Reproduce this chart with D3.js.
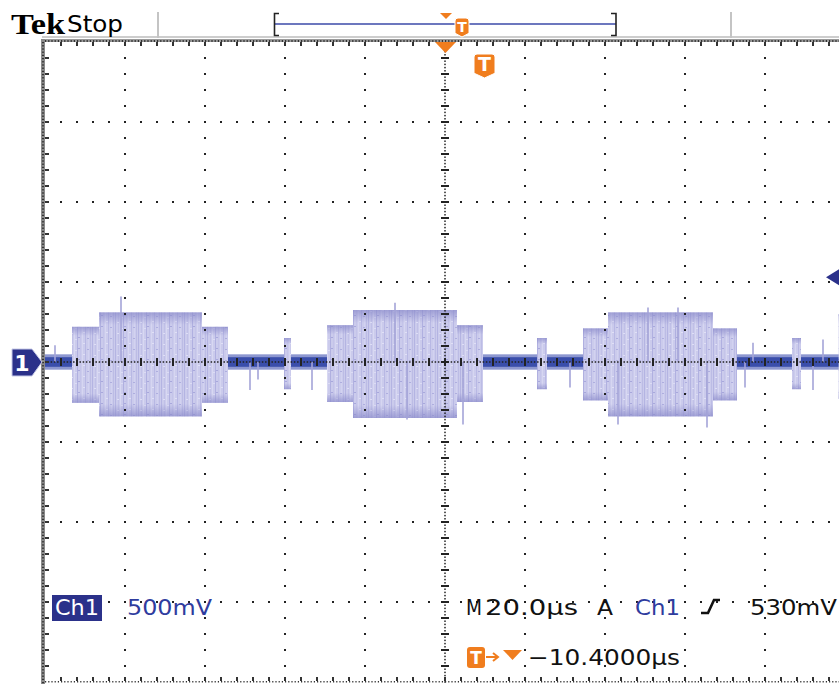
<!DOCTYPE html>
<html><head><meta charset="utf-8">
<script src="https://cdn.jsdelivr.net/npm/d3@7"></script>
<style>html,body{margin:0;padding:0;background:#fff;}svg{display:block;}</style>
</head><body>
<svg id="c" width="839" height="684"></svg>
<script>
// ---- data (time in µs from left of screen, amplitude in V) ----
const outerStart = [6.75, 70.5, 134.5];
const outerEnd   = [45.75, 109.5, 173];
const outerHi    = [0.22, 0.23, 0.21];
const outerLo    = [-0.255, -0.25, -0.24];
const coreStart  = [13.5, 77, 140.75];
const coreEnd    = [39.25, 103, 167];
const coreHi     = [0.31, 0.325, 0.31];
const coreLo     = [-0.34, -0.35, -0.34];
const smallStart = [59.75, 123, 186.75, 198.4];
const smallEnd   = [61.5, 125.5, 189, 200];
const smallHi    = [0.15, 0.15, 0.15, 0.30];
const smallLo    = [-0.17, -0.17, -0.17, -0.23];
const spikeT = [2.5, 19, 51.25, 53.25, 66.75, 87.5, 90.5, 104.5, 131.25, 143.25, 150.75, 158.25, 165.5, 175, 177, 192, 194.5];
const spikeV = [0.105, 0.41, -0.175, -0.11, -0.175, 0.37, -0.36, -0.39, -0.16, -0.39, 0.34, 0.34, -0.41, -0.16, 0.12, -0.175, 0.14];
const baseNoise = 0.03;
const triggerLevel = 0.53;
const timeDomain = [0, 200];   // 10 div x 20 µs
const voltDomain = [-2, 2];    // 8 div x 500 mV
const labelCh = "Ch1", labelScale = "500mV";
const labelTime = "20.0µs", labelTrig = "530mV", labelPos = "−10.4000µs";

const svg = d3.select("#c");
const x = d3.scaleLinear().domain(timeDomain).range([45, 845]);
const y = d3.scaleLinear().domain(voltDomain).range([682, 42]);
const ORANGE = "#f07d1e", NAVY = "#2b318a", BLUE = "#2f3c9e";

svg.append("rect").attr("width", 839).attr("height", 684).attr("fill", "#fff");

// defs
const defs = svg.append("defs");
const pat = defs.append("pattern").attr("id", "noise").attr("patternUnits", "userSpaceOnUse")
  .attr("width", 23).attr("height", 11);
pat.append("rect").attr("width", 23).attr("height", 11).attr("fill", "#cbcbec");
[[0,1,"#b4b4e2"],[3,1,"#c0c0e7"],[5,1,"#d8d8f2"],[8,1,"#b0b0e0"],[11,1,"#c4c4e9"],[13,1,"#d6d6f1"],[16,1,"#b8b8e4"],[19,1,"#d2d2f0"],[21,1,"#bcbce5"]]
  .forEach(s => pat.append("rect").attr("x", s[0]).attr("width", s[1]).attr("height", 11).attr("fill", s[2]));
[[2,3,"#dedef6"],[9,7,"#a8a8dc"],[14,2,"#e0e0f6"],[18,8,"#aeaedf"],[6,9,"#dcdcf4"]]
  .forEach(s => pat.append("rect").attr("x", s[0]).attr("y", s[1]).attr("width", 2).attr("height", 1).attr("fill", s[2]));
const grad = defs.append("linearGradient").attr("id", "edge").attr("x1", 0).attr("x2", 0).attr("y1", 0).attr("y2", 1);
[[0,0.7],[0.12,0],[0.88,0],[1,0.7]].forEach(s =>
  grad.append("stop").attr("offset", s[0]).attr("stop-color", "#8a8aca").attr("stop-opacity", s[1]));

// ---- waveform ----
const wf = svg.append("g");
wf.append("rect").attr("x", x(0)).attr("width", x(200) - x(0))
  .attr("y", y(baseNoise * 1.6)).attr("height", y(-baseNoise * 1.6) - y(baseNoise * 1.6)).attr("fill", "#8d97d0");
wf.append("rect").attr("x", x(0)).attr("width", x(200) - x(0))
  .attr("y", y(baseNoise)).attr("height", y(-baseNoise) - y(baseNoise)).attr("fill", "#3a4eab");

function bursts(starts, ends, his, los) {
  const d = starts.map((s, i) => ({s, e: ends[i], h: his[i], l: los[i]}));
  ["url(#noise)", "url(#edge)"].forEach(f => {
    wf.selectAll(null).data(d).enter().append("rect")
      .attr("x", b => x(b.s)).attr("width", b => x(b.e) - x(b.s))
      .attr("y", b => y(b.h)).attr("height", b => y(b.l) - y(b.h))
      .attr("fill", f);
  });
}
bursts(outerStart, outerEnd, outerHi, outerLo);
bursts(coreStart, coreEnd, coreHi, coreLo);
bursts(smallStart, smallEnd, smallHi, smallLo);

wf.selectAll(null).data(spikeT.map((t, i) => ({t, v: spikeV[i]}))).enter().append("line")
  .attr("x1", d => x(d.t)).attr("x2", d => x(d.t))
  .attr("y1", y(0)).attr("y2", d => y(d.v))
  .attr("stroke", "#a4a4d8").attr("stroke-width", 1.6);

// ---- graticule ----
const g = svg.append("g").attr("fill", "#222");
const X0 = 45, Y0 = 42, DIV = 80;
const dots = [];
for (let i = 1; i < 10; i++) {
  if (i === 5) continue;
  for (let k = 1; k < 40; k++) dots.push([X0 + i * DIV, Y0 + k * 16]);
}
for (let j = 1; j < 8; j++) {
  if (j === 4) continue;
  for (let k = 1; k < 50; k++) dots.push([X0 + k * 16, Y0 + j * DIV]);
}
g.selectAll(null).data(dots).enter().append("rect")
  .attr("x", d => d[0] - 1).attr("y", d => d[1] - 1).attr("width", 2).attr("height", 2);
const cx = X0 + 5 * DIV, cy = Y0 + 4 * DIV;
const fine = [];
for (let p = X0; p < 839; p += 3.2) fine.push([p, cy]);
for (let p = Y0; p < 684; p += 3.2) fine.push([cx, p]);
g.selectAll(null).data(fine).enter().append("rect")
  .attr("x", d => d[0] - 0.75).attr("y", d => d[1] - 0.75).attr("width", 1.5).attr("height", 1.5);
const ticksH = d3.range(1, 50).map(k => X0 + k * 16);
g.selectAll(null).data(ticksH).enter().append("rect")
  .attr("x", d => d - 1).attr("y", cy - 4).attr("width", 2).attr("height", 8);
const ticksV = d3.range(1, 40).map(k => Y0 + k * 16);
g.selectAll(null).data(ticksV).enter().append("rect")
  .attr("x", cx - 4).attr("y", d => d - 1).attr("width", 8).attr("height", 2);

// borders
svg.append("line").attr("x1", 42).attr("x2", 839).attr("y1", 37).attr("y2", 37).attr("stroke", "#bdbdbd").attr("stroke-width", 1.5);
svg.append("rect").attr("x", 41).attr("y", 39).attr("width", 798).attr("height", 3).attr("fill", "#9a9a9a");
svg.append("rect").attr("x", 41).attr("y", 39).attr("width", 4).attr("height", 645).attr("fill", "#8a8a8a");
const bt = svg.append("g").attr("fill", "#333");
bt.selectAll(null).data(d3.range(45, 839, 3.2)).enter().append("rect")
  .attr("x", d => d).attr("y", 40).attr("width", 1.2).attr("height", 2);
bt.selectAll(null).data(d3.range(42, 684, 3.2)).enter().append("rect")
  .attr("x", 42).attr("y", d => d).attr("width", 2).attr("height", 1.2);
bt.selectAll(null).data(d3.range(45, 839, 3.2)).enter().append("rect")
  .attr("x", d => d).attr("y", 681).attr("width", 1.2).attr("height", 1.5);
bt.selectAll(null).data(d3.range(1, 50).map(k => X0 + k * 16)).enter().append("rect")
  .attr("x", d => d - 1).attr("y", 42).attr("width", 2).attr("height", 4);
bt.selectAll(null).data(d3.range(1, 50).map(k => X0 + k * 16)).enter().append("rect")
  .attr("x", d => d - 1).attr("y", 677).attr("width", 2).attr("height", 4);
bt.selectAll(null).data(d3.range(1, 40).map(k => Y0 + k * 16)).enter().append("rect")
  .attr("x", 45).attr("y", d => d - 1).attr("width", 4).attr("height", 2);

// ---- header ----
svg.append("text").attr("x", 11).attr("y", 34).attr("font-family", "Liberation Serif, DejaVu Serif, serif")
  .attr("font-weight", "bold").attr("font-size", 30).attr("textLength", 54).attr("lengthAdjust", "spacingAndGlyphs").text("Tek");
svg.append("text").attr("x", 67).attr("y", 32).attr("font-family", "DejaVu Sans, sans-serif")
  .attr("font-size", 23).attr("textLength", 56).attr("lengthAdjust", "spacingAndGlyphs").text("Stop");
[158, 731].forEach(px => svg.append("line").attr("x1", px).attr("x2", px).attr("y1", 12).attr("y2", 38)
  .attr("stroke", "#c4c4c4").attr("stroke-width", 2));

svg.append("line").attr("x1", 274).attr("x2", 616).attr("y1", 24).attr("y2", 24).attr("stroke", "#3b4aa8").attr("stroke-width", 1.6);
svg.append("path").attr("d", "M279,13.5H274.5V35.5H279").attr("fill", "none").attr("stroke", "#222").attr("stroke-width", 1.6);
svg.append("path").attr("d", "M611,13.5H616V35.5H611").attr("fill", "none").attr("stroke", "#222").attr("stroke-width", 1.6);
svg.append("path").attr("d", "M440,13L452,13L446,19Z").attr("fill", ORANGE);
svg.append("path").attr("d", "M435,42L456,42L445.5,53Z").attr("fill", ORANGE);

function badge(x0, y0, w, h, fs) {
  const r = 3;
  svg.append("path").attr("d",
    `M${x0 + r},${y0}H${x0 + w - r}Q${x0 + w},${y0} ${x0 + w},${y0 + r}V${y0 + h * 0.8}L${x0 + w / 2},${y0 + h}L${x0},${y0 + h * 0.8}V${y0 + r}Q${x0},${y0} ${x0 + r},${y0}Z`)
    .attr("fill", ORANGE).attr("stroke", "#fff").attr("stroke-width", 1);
  svg.append("text").attr("x", x0 + w / 2).attr("y", y0 + h * 0.72).attr("text-anchor", "middle")
    .attr("font-family", "DejaVu Sans, sans-serif").attr("font-weight", "bold").attr("font-size", fs)
    .attr("fill", "#fff").text("T");
}
badge(455, 18, 14, 19, 14);
badge(474, 54, 21, 24, 19);

svg.append("path").attr("d", "M12,349H32L42,362L32,376H12Z").attr("fill", NAVY).attr("stroke", "#c8cbe8").attr("stroke-width", 1);
svg.append("text").attr("x", 22).attr("y", 371).attr("text-anchor", "middle").attr("font-family", "DejaVu Sans, sans-serif")
  .attr("font-weight", "bold").attr("font-size", 22).attr("fill", "#fff").text("1");
svg.append("path").attr("d", `M826,${y(triggerLevel)}L839,${y(triggerLevel) - 8}V${y(triggerLevel) + 8}Z`).attr("fill", NAVY);

// ---- readouts ----
const F = "DejaVu Sans, sans-serif";
function txt(str, x0, y0, w, fill) {
  return svg.append("text").attr("x", x0).attr("y", y0).attr("font-family", F).attr("font-size", 21)
    .attr("fill", fill || "#111").attr("textLength", w).attr("lengthAdjust", "spacingAndGlyphs").text(str);
}
svg.append("rect").attr("x", 52).attr("y", 595).attr("width", 50).attr("height", 26).attr("fill", NAVY);
txt(labelCh, 55, 615, 44, "#fff");
txt(labelScale, 127, 615, 85, BLUE);
txt("M", 466, 615, 16);
txt(labelTime, 485, 615, 93);
txt("A", 597, 615, 16);
txt(labelCh, 635, 615, 45, BLUE);
svg.append("path").attr("d", "M701,613H708L714,600H720").attr("fill", "none").attr("stroke", "#111").attr("stroke-width", 2.6);
txt(labelTrig, 750, 615, 87);
svg.append("rect").attr("x", 467).attr("y", 647).attr("width", 18).attr("height", 21).attr("rx", 3).attr("fill", ORANGE);
svg.append("text").attr("x", 476).attr("y", 664).attr("text-anchor", "middle").attr("font-family", F)
  .attr("font-weight", "bold").attr("font-size", 17).attr("fill", "#fff").text("T");
svg.append("path").attr("d", "M486,657H497M493,653L498,657L493,661").attr("fill", "none").attr("stroke", ORANGE).attr("stroke-width", 2);
svg.append("path").attr("d", "M503,650H522L512.5,660Z").attr("fill", ORANGE);
txt(labelPos, 528, 665, 152);
</script>
</body></html>
